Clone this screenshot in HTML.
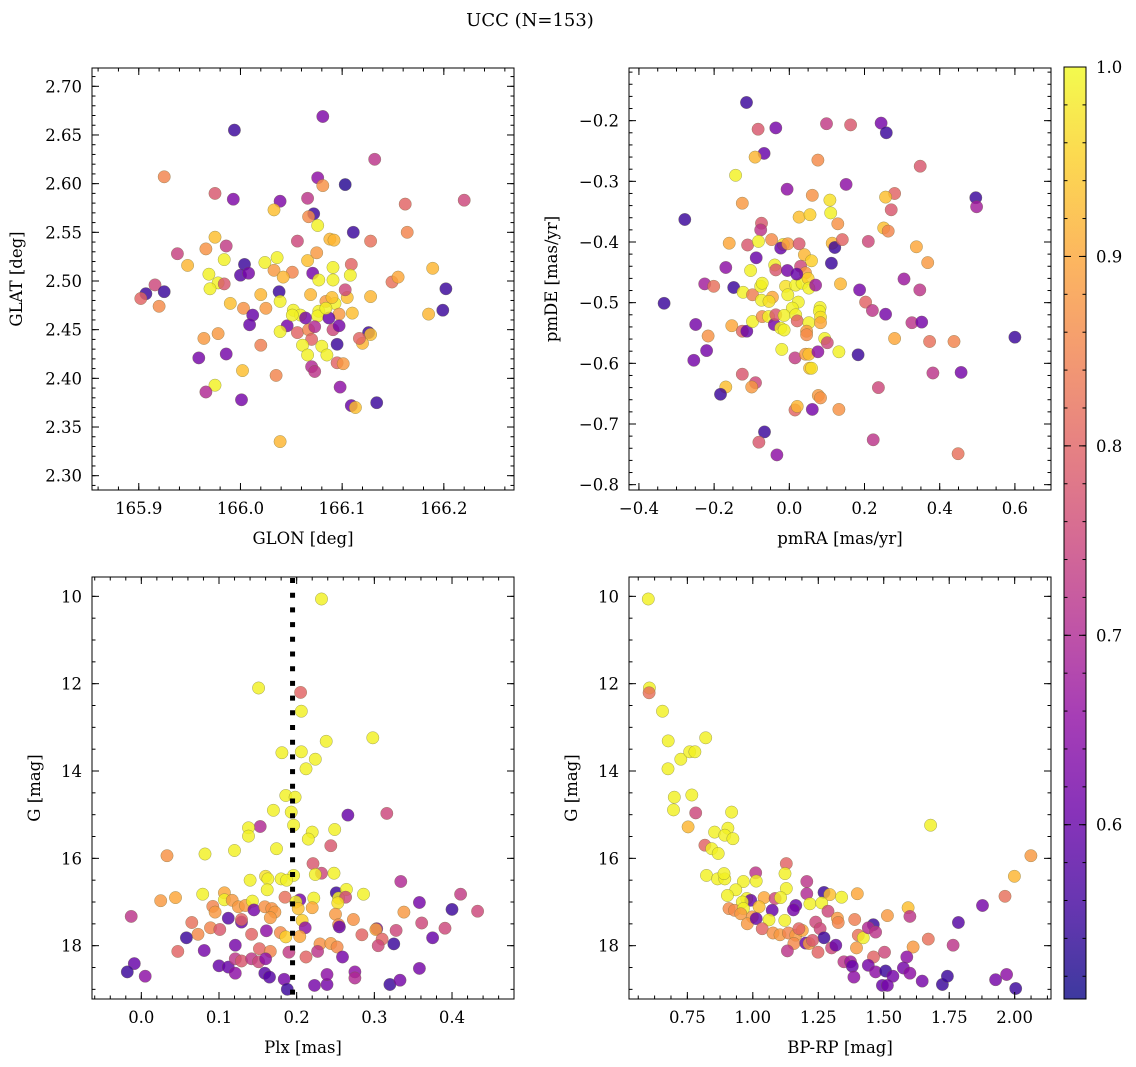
<!DOCTYPE html>
<html><head><meta charset="utf-8"><style>
html,body{margin:0;padding:0;background:#fff}
svg{display:block}
text{font-family:"DejaVu Serif","Liberation Serif",serif;fill:#000}
</style></head><body>
<svg id="fig" xmlns="http://www.w3.org/2000/svg" width="1136" height="1067" viewBox="0 0 1136 1067">
<defs>
<linearGradient id="cbgrad" x1="0" y1="1" x2="0" y2="0">
<stop offset="0" stop-color="#0d0887"/><stop offset="0.1" stop-color="#41049d"/><stop offset="0.2" stop-color="#6a00a8"/><stop offset="0.3" stop-color="#8f0da4"/><stop offset="0.4" stop-color="#b12a90"/><stop offset="0.5" stop-color="#cc4778"/><stop offset="0.6" stop-color="#e16462"/><stop offset="0.7" stop-color="#f2844b"/><stop offset="0.8" stop-color="#fca636"/><stop offset="0.9" stop-color="#fcce25"/><stop offset="1" stop-color="#f0f921"/>
</linearGradient>
</defs>
<text x="530" y="26" font-size="18" text-anchor="middle">UCC (N=153)</text>
</svg>
<script>
// ---- data ----
const glon = [165.994,166.081,166.132,165.925,165.975,165.993,166.076,166.081,166.103,166.039,166.033,166.066,166.072,166.067,166.076,166.111,166.162,166.164,166.220,166.056,166.088,166.092,166.128,165.975,165.986,165.966,165.938,165.948,165.984,166.036,166.024,166.004,166.066,166.075,166.051,166.033,166.042,165.969,165.978,165.970,165.984,166.000,166.008,166.071,166.077,166.091,166.091,166.109,166.108,166.149,166.155,166.189,166.202,165.916,165.907,165.925,165.902,165.920,165.990,166.020,166.038,166.039,166.003,166.025,166.012,166.009,166.069,166.084,166.093,166.105,166.103,166.128,166.052,166.059,166.077,166.076,166.097,166.110,166.087,166.046,166.039,166.056,166.067,166.073,166.091,166.097,166.126,166.128,166.120,166.117,165.964,165.978,166.020,166.070,166.061,166.080,166.066,166.085,166.095,166.095,166.101,165.959,165.986,166.002,166.035,166.070,166.073,166.098,165.975,165.966,166.001,166.109,166.113,166.134,166.039,166.185,166.199,166.051,166.064,166.084,166.090];
const glat = [2.655,2.669,2.625,2.607,2.590,2.584,2.606,2.598,2.599,2.582,2.573,2.585,2.569,2.566,2.557,2.550,2.579,2.550,2.583,2.541,2.543,2.542,2.541,2.545,2.536,2.533,2.528,2.516,2.522,2.524,2.519,2.517,2.521,2.529,2.509,2.511,2.504,2.507,2.498,2.492,2.497,2.506,2.508,2.508,2.501,2.514,2.501,2.517,2.506,2.499,2.504,2.513,2.492,2.496,2.487,2.489,2.482,2.474,2.477,2.486,2.489,2.479,2.472,2.472,2.465,2.455,2.486,2.479,2.477,2.483,2.491,2.484,2.470,2.465,2.469,2.464,2.466,2.467,2.462,2.454,2.448,2.447,2.450,2.453,2.450,2.454,2.447,2.445,2.436,2.441,2.441,2.446,2.434,2.440,2.434,2.433,2.424,2.424,2.435,2.416,2.415,2.421,2.425,2.408,2.403,2.412,2.407,2.391,2.393,2.386,2.378,2.372,2.370,2.375,2.335,2.466,2.470,2.465,2.462,2.472,2.483];
const probPos = [.55,.63,.72,.85,.78,.63,.65,.87,.53,.63,.93,.72,.55,.86,.99,.55,.8,.85,.75,.75,.92,.92,.82,.93,.73,.87,.74,.92,.99,.99,.99,.55,.93,.88,.85,.88,.92,.99,.99,.99,.78,.58,.62,.62,.99,.99,.99,.8,.99,.82,.9,.92,.55,.75,.55,.55,.8,.86,.93,.92,.55,.99,.87,.88,.6,.6,.92,.88,.99,.93,.75,.92,.99,.99,.99,.99,.88,.93,.6,.62,.99,.8,.85,.7,.75,.62,.55,.93,.92,.8,.88,.88,.84,.8,.99,.99,.99,.99,.55,.8,.88,.62,.62,.93,.85,.7,.72,.65,.99,.7,.62,.6,.93,.55,.92,.92,.55,.99,.62,.99,.93];

const pmra = [-0.114,-0.083,-0.036,0.099,0.163,0.244,0.258,-0.067,-0.091,0.076,-0.143,0.348,-0.006,0.151,0.061,0.280,0.256,-0.125,0.108,0.496,0.498,0.271,-0.278,0.026,0.055,0.110,-0.074,-0.076,0.129,0.251,0.263,-0.160,-0.111,-0.082,-0.047,-0.016,-0.023,-0.004,0.026,0.114,0.121,0.141,0.210,0.338,0.368,-0.088,0.040,0.059,0.112,-0.169,-0.039,-0.036,-0.005,0.030,0.043,-0.103,-0.225,-0.201,-0.148,-0.123,-0.098,-0.076,-0.072,-0.045,-0.074,-0.054,-0.010,0.017,-0.004,0.034,0.050,0.052,0.070,0.020,0.136,0.187,0.305,0.347,0.024,0.008,0.082,0.080,0.203,0.221,0.256,-0.333,-0.249,-0.220,-0.216,-0.254,-0.153,-0.125,-0.113,-0.098,-0.072,-0.055,-0.040,-0.036,-0.014,-0.023,-0.014,0.017,0.021,0.052,0.083,0.083,0.046,0.046,0.094,0.101,0.326,0.352,0.280,0.373,0.438,0.600,-0.020,0.015,0.043,0.052,0.076,0.132,0.183,0.054,0.059,-0.125,-0.090,-0.100,-0.169,-0.183,0.382,0.457,0.237,0.077,0.083,0.015,0.021,0.061,0.132,-0.066,-0.081,-0.033,0.223,0.449];
const pmde = [-0.170,-0.214,-0.212,-0.205,-0.207,-0.204,-0.220,-0.254,-0.260,-0.265,-0.290,-0.275,-0.313,-0.305,-0.323,-0.320,-0.326,-0.336,-0.331,-0.327,-0.342,-0.347,-0.363,-0.359,-0.355,-0.352,-0.369,-0.380,-0.370,-0.377,-0.382,-0.402,-0.405,-0.399,-0.396,-0.404,-0.410,-0.403,-0.403,-0.402,-0.409,-0.396,-0.399,-0.408,-0.434,-0.426,-0.421,-0.431,-0.435,-0.442,-0.438,-0.446,-0.447,-0.440,-0.451,-0.447,-0.469,-0.473,-0.475,-0.483,-0.487,-0.473,-0.468,-0.491,-0.496,-0.498,-0.473,-0.471,-0.487,-0.468,-0.460,-0.476,-0.471,-0.453,-0.469,-0.479,-0.461,-0.479,-0.499,-0.509,-0.508,-0.514,-0.499,-0.513,-0.519,-0.501,-0.536,-0.579,-0.555,-0.595,-0.538,-0.547,-0.547,-0.531,-0.523,-0.523,-0.536,-0.520,-0.521,-0.542,-0.545,-0.520,-0.530,-0.533,-0.524,-0.533,-0.547,-0.553,-0.559,-0.566,-0.533,-0.532,-0.559,-0.564,-0.564,-0.557,-0.577,-0.591,-0.585,-0.585,-0.581,-0.581,-0.586,-0.608,-0.608,-0.618,-0.632,-0.639,-0.639,-0.651,-0.616,-0.615,-0.640,-0.653,-0.657,-0.677,-0.671,-0.676,-0.676,-0.713,-0.730,-0.751,-0.726,-0.749];
const probPm = [.55,.78,.62,.73,.78,.62,.55,.6,.92,.86,.99,.78,.65,.65,.87,.8,.93,.88,.97,.55,.68,.78,.55,.93,.95,.99,.78,.72,.87,.93,.85,.9,.78,.99,.86,.97,.6,.88,.78,.92,.55,.8,.75,.9,.88,.6,.92,.95,.55,.65,.99,.78,.62,.75,.88,.99,.68,.82,.55,.99,.84,.99,.99,.9,.99,.97,.97,.99,.99,.99,.95,.99,.67,.6,.92,.62,.67,.72,.99,.99,.99,.99,.8,.72,.62,.55,.62,.62,.87,.62,.9,.8,.6,.99,.86,.99,.62,.78,.99,.99,.99,.99,.8,.99,.97,.9,.88,.86,.99,.75,.72,.62,.9,.82,.85,.55,.99,.73,.88,.93,.65,.99,.55,.93,.97,.78,.75,.88,.93,.55,.72,.62,.75,.88,.87,.8,.92,.62,.87,.55,.78,.65,.72,.82];

const plx = [0.232,0.151,0.205,0.206,0.298,0.238,0.181,0.206,0.224,0.212,0.186,0.198,0.170,0.193,0.196,0.266,0.316,0.153,0.138,0.138,0.220,0.215,0.249,0.244,0.174,0.120,0.082,0.033,0.221,0.232,0.224,0.248,0.196,0.160,0.163,0.140,0.180,0.187,0.334,0.162,0.079,0.107,0.251,0.264,0.286,0.411,0.185,0.204,0.222,0.254,0.263,0.025,0.044,0.107,0.117,0.125,0.134,0.143,0.145,0.159,0.168,0.172,0.199,0.202,0.220,0.253,0.358,0.400,0.433,0.338,0.092,0.095,-0.013,0.112,0.129,0.129,0.166,0.207,0.211,0.250,0.273,0.254,0.255,0.065,0.089,0.101,0.073,0.058,0.142,0.161,0.179,0.186,0.204,0.303,0.302,0.328,0.361,0.391,0.375,0.284,0.310,0.305,0.325,0.230,0.244,0.252,0.047,0.081,0.121,0.152,0.166,0.190,0.227,0.212,0.259,-0.009,-0.018,0.005,0.100,0.112,0.121,0.121,0.129,0.142,0.151,0.160,0.159,0.165,0.184,0.188,0.223,0.239,0.239,0.275,0.275,0.320,0.333,0.358];
const gPlx = [10.06,12.10,12.20,12.63,13.24,13.32,13.58,13.56,13.73,13.95,14.56,14.60,14.90,14.94,15.24,15.01,14.97,15.27,15.30,15.49,15.40,15.56,15.34,15.71,15.78,15.82,15.90,15.94,16.12,16.34,16.37,16.34,16.39,16.41,16.47,16.50,16.47,16.50,16.53,16.72,16.82,16.79,16.79,16.71,16.82,16.82,16.89,16.95,16.91,16.91,16.89,16.97,16.90,16.95,16.96,17.11,17.08,16.98,17.18,17.11,17.15,17.23,17.00,17.15,17.13,17.02,17.01,17.17,17.21,17.23,17.10,17.23,17.33,17.37,17.46,17.40,17.36,17.42,17.59,17.28,17.40,17.52,17.57,17.47,17.59,17.63,17.74,17.82,17.74,17.66,17.70,17.80,17.79,17.61,17.63,17.65,17.48,17.60,17.82,17.75,17.85,18.00,17.96,17.96,17.95,18.03,18.13,18.11,17.99,18.07,18.13,18.15,18.13,18.26,18.26,18.41,18.60,18.70,18.46,18.49,18.63,18.30,18.35,18.30,18.37,18.30,18.63,18.72,18.77,19.00,18.91,18.89,18.66,18.60,18.74,18.89,18.79,18.52];
const probPlx = [.99,.99,.8,.99,.99,.99,.99,.99,.99,.99,.99,.99,.99,.99,.99,.6,.75,.7,.99,.99,.99,.99,.99,.78,.99,.99,.99,.87,.78,.75,.99,.99,.99,.97,.99,.99,.99,.99,.7,.99,.99,.9,.55,.99,.99,.73,.82,.62,.99,.99,.75,.88,.9,.99,.88,.88,.88,.99,.62,.87,.87,.88,.99,.93,.9,.97,.62,.55,.75,.88,.85,.88,.72,.58,.6,.8,.88,.95,.65,.88,.87,.86,.6,.82,.85,.78,.86,.55,.8,.65,.86,.95,.9,.62,.9,.75,.75,.75,.6,.8,.8,.75,.55,.87,.88,.86,.8,.62,.62,.8,.85,.73,.72,.8,.62,.6,.55,.65,.6,.6,.65,.72,.78,.72,.75,.65,.58,.58,.62,.55,.62,.62,.65,.65,.7,.55,.62,.62];

const bprp = [0.601,0.605,0.604,0.655,0.677,0.820,0.676,0.725,0.759,0.779,0.700,0.767,0.697,0.782,0.919,0.753,1.679,0.854,0.905,0.893,0.924,0.817,0.843,0.868,2.062,1.999,1.963,1.877,1.785,1.765,0.823,0.865,0.893,0.890,1.011,1.128,1.123,0.964,1.013,0.935,0.903,1.128,1.206,1.206,1.272,1.294,1.339,1.399,0.977,0.992,1.043,1.085,1.106,0.960,1.164,1.155,1.218,1.263,0.909,0.930,0.964,1.024,1.074,0.954,0.998,0.979,1.062,1.013,1.036,1.122,1.287,1.323,1.326,1.389,1.514,1.593,1.600,1.240,1.257,1.077,1.104,1.136,1.164,1.189,1.176,1.157,1.202,1.215,1.272,1.228,1.301,1.317,1.249,1.132,1.403,1.422,1.460,1.441,1.469,1.396,1.461,1.503,1.612,1.670,1.348,1.373,1.380,1.386,1.441,1.469,1.507,1.535,1.495,1.514,1.588,1.575,1.600,1.647,1.724,1.743,1.927,1.969,2.004];
const gCmd = [10.06,12.10,12.21,12.63,13.31,13.24,13.95,13.73,13.56,13.56,14.60,14.55,14.89,14.96,14.94,15.28,15.24,15.40,15.31,15.47,15.55,15.70,15.78,15.89,15.94,16.41,16.87,17.08,17.47,17.99,16.39,16.47,16.47,16.35,16.33,16.12,16.35,16.53,16.52,16.72,16.85,16.69,16.53,16.81,16.78,16.83,16.89,16.81,16.92,16.96,16.90,16.92,16.90,17.00,17.08,17.18,17.04,17.02,17.15,17.19,17.15,17.11,17.19,17.27,17.34,17.50,17.41,17.38,17.61,17.42,17.21,17.37,17.47,17.40,17.31,17.13,17.33,17.46,17.61,17.71,17.75,17.71,17.76,17.65,17.61,17.95,17.94,17.95,17.82,17.88,18.05,17.99,18.15,18.12,17.76,17.82,17.52,17.59,17.69,18.05,18.26,18.15,18.03,17.85,18.37,18.37,18.47,18.72,18.45,18.60,18.58,18.70,18.91,18.91,18.26,18.51,18.63,18.81,18.89,18.70,18.78,18.66,18.98];
const probCmd = [.99,.99,.82,.99,.99,.99,.99,.99,.99,.99,.99,.99,.99,.75,.99,.92,.99,.99,.99,.99,.99,.8,.99,.99,.88,.92,.82,.62,.58,.72,.99,.99,.99,.99,.72,.8,.99,.99,.99,.99,.99,.99,.72,.7,.55,.93,.99,.9,.99,.6,.9,.75,.99,.99,.6,.62,.99,.99,.86,.86,.99,.93,.6,.88,.88,.88,.99,.6,.8,.99,.75,.88,.85,.84,.88,.93,.72,.75,.75,.87,.88,.85,.88,.9,.8,.86,.6,.88,.55,.78,.75,.6,.8,.72,.82,.99,.55,.7,.72,.88,.8,.75,.88,.82,.72,.67,.6,.65,.62,.65,.55,.62,.6,.62,.65,.62,.65,.62,.55,.55,.62,.65,.55];

const xTicks1 = [165.9,166.0,166.1,166.2], yTicks1 = [2.30,2.35,2.40,2.45,2.50,2.55,2.60,2.65,2.70];
const xTicks2 = [-0.4,-0.2,0.0,0.2,0.4,0.6], yTicks2 = [-0.8,-0.7,-0.6,-0.5,-0.4,-0.3,-0.2];
const xTicks3 = [0.0,0.1,0.2,0.3,0.4], yTicksG = [10,12,14,16,18];
const xTicks4 = [0.75,1.00,1.25,1.50,1.75,2.00];
const cbTicks = [0.6,0.7,0.8,0.9,1.0];
const plxLine = [0.1947];
const vmin = 0.508, vmax = 1.0;

// ---- helpers ----
const NS = 'http://www.w3.org/2000/svg';
const svg = document.getElementById('fig');
const stops = ['#0d0887','#41049d','#6a00a8','#8f0da4','#b12a90','#cc4778','#e16462','#f2844b','#fca636','#fcce25','#f0f921'].map(h=>[parseInt(h.slice(1,3),16),parseInt(h.slice(3,5),16),parseInt(h.slice(5,7),16)]);
function plasma(v){
  let t = Math.max(0,Math.min(1,(v-vmin)/(vmax-vmin)))*10;
  let i = Math.min(9,Math.floor(t)), f = t-i;
  const c = stops[i].map((a,k)=>Math.round(a+(stops[i+1][k]-a)*f));
  return 'rgb('+c.join(',')+')';
}
function mk(tag, attrs, parent){
  const e = document.createElementNS(NS, tag);
  for (const k in attrs) e.setAttribute(k, attrs[k]);
  (parent||svg).appendChild(e);
  return e;
}
const minus = s => s.replace('-', '\u2212');

function panel(name, box, xd, yd, inv, xt, yt, xmin, ymin, xl, yl, xs, ys, cs, fx, fy, ylx){
  const g = mk('g', {});
  
  
  const X = v => box.x + (v - xd[0])/(xd[1]-xd[0])*box.w;
  const Y = inv ? (v => box.y + (v - yd[0])/(yd[1]-yd[0])*box.h)
                : (v => box.y + (yd[1] - v)/(yd[1]-yd[0])*box.h);
  const pts = mk('g', {}, g);
  
  
  const n = Math.min(xs.length, ys.length, cs.length);
  for (let i=0;i<n;i++){
    const c = mk('circle', {cx:X(xs[i]).toFixed(1), cy:Y(ys[i]).toFixed(1), r:6.2, fill:plasma(cs[i]), 'fill-opacity':0.82, stroke:'#6b6b3a', 'stroke-width':0.5, 'stroke-opacity':0.6}, pts);
    
    
  }
  const ax = mk('g', {stroke:'#000','stroke-width':1}, g);
  
  
  const x0 = Math.ceil(xd[0]/xmin-1e-9), x1 = Math.floor(xd[1]/xmin+1e-9);
  for (let k=x0;k<=x1;k++){ const px=X(k*xmin);
    mk('line',{x1:px,x2:px,y1:box.y+box.h,y2:box.y+box.h-3.5},ax); mk('line',{x1:px,x2:px,y1:box.y,y2:box.y+3.5},ax); }
  const y0 = Math.ceil(yd[0]/ymin-1e-9), y1 = Math.floor(yd[1]/ymin+1e-9);
  for (let k=y0;k<=y1;k++){ const py=Y(k*ymin);
    mk('line',{y1:py,y2:py,x1:box.x,x2:box.x+3.5},ax); mk('line',{y1:py,y2:py,x1:box.x+box.w,x2:box.x+box.w-3.5},ax); }
  xt.forEach(v=>{ const px=X(v);
    mk('line',{x1:px,x2:px,y1:box.y+box.h,y2:box.y+box.h-7},ax); mk('line',{x1:px,x2:px,y1:box.y,y2:box.y+7},ax);
    const t = mk('text',{x:px,y:box.y+box.h+24,'font-size':16.5,'text-anchor':'middle',stroke:'none'},g);
    t.textContent = minus(fx(v));
    
    
  });
  yt.forEach(v=>{ const py=Y(v);
    mk('line',{y1:py,y2:py,x1:box.x,x2:box.x+7},ax); mk('line',{y1:py,y2:py,x1:box.x+box.w,x2:box.x+box.w-7},ax);
    const t = mk('text',{x:box.x-10,y:py+6,'font-size':16.5,'text-anchor':'end',stroke:'none'},g);
    t.textContent = minus(fy(v));
    
    
  });
  mk('rect',{x:box.x,y:box.y,width:box.w,height:box.h,fill:'none'},ax);
  const xlab = mk('text',{x:box.x+box.w/2,y:box.y+box.h+54,'font-size':16.5,'text-anchor':'middle'},g);
  xlab.textContent = xl;
  
  
  const ly = box.y+box.h/2;
  const ylab = mk('text',{x:ylx,y:ly,'font-size':16.5,'text-anchor':'middle',transform:'rotate(-90 '+ylx+' '+ly+')'},g);
  ylab.textContent = yl;
  
  
  return {X, Y, g, box};
}

const f1=v=>v.toFixed(1), f2=v=>v.toFixed(2), f0=v=>String(v);
panel('panel-position', {x:92,y:68,w:422,h:422}, [165.854,166.269], [2.2853,2.7188], false, xTicks1, yTicks1, 0.02, 0.01, 'GLON [deg]', 'GLAT [deg]', glon, glat, probPos, f1, f2, 22);
panel('panel-proper-motion', {x:629,y:68,w:422,h:422}, [-0.4264,0.6960], [-0.8088,-0.1132], false, xTicks2, yTicks2, 0.05, 0.02, 'pmRA [mas/yr]', 'pmDE [mas/yr]', pmra, pmde, probPm, f1, f1, 557);
const p3 = panel('panel-parallax', {x:92,y:577,w:422,h:422}, [-0.0635,0.4798], [9.557,19.221], true, xTicks3, yTicksG, 0.02, 0.5, 'Plx [mas]', 'G [mag]', plx, gPlx, probPlx, f1, f0, 40);
panel('panel-cmd', {x:629,y:577,w:422,h:422}, [0.5272,2.1387], [9.557,19.221], true, xTicks4, yTicksG, 0.0625, 0.5, 'BP-RP [mag]', 'G [mag]', bprp, gCmd, probCmd, f2, f0, 577);

// parallax reference line
plxLine.forEach(v=>{
  const l = mk('line',{x1:p3.X(v),x2:p3.X(v),y1:p3.box.y+1,y2:p3.box.y+p3.box.h,stroke:'#000','stroke-width':5,'stroke-dasharray':'5 9.7'}, p3.g);
  
  
});

// colorbar
const cb = mk('g',{});


const cbBox = {x:1064,y:67,w:22,h:932};
const cbr = mk('rect',{x:cbBox.x,y:cbBox.y,width:cbBox.w,height:cbBox.h,fill:'url(#cbgrad)','fill-opacity':0.8},cb);


const CY = v => cbBox.y + (vmax - v)/(vmax-vmin)*cbBox.h;
for (let k=Math.ceil(vmin/0.02); k<=Math.floor(vmax/0.02+1e-9); k++){
  const py = CY(k*0.02);
  mk('line',{x1:cbBox.x+cbBox.w,x2:cbBox.x+cbBox.w-3.5,y1:py,y2:py,stroke:'#000'},cb);
  mk('line',{x1:cbBox.x,x2:cbBox.x+3.5,y1:py,y2:py,stroke:'#000'},cb);
}
cbTicks.forEach(v=>{
  const py = CY(v);
  mk('line',{x1:cbBox.x+cbBox.w,x2:cbBox.x+cbBox.w-7,y1:py,y2:py,stroke:'#000'},cb);
  mk('line',{x1:cbBox.x,x2:cbBox.x+7,y1:py,y2:py,stroke:'#000'},cb);
  const t = mk('text',{x:cbBox.x+cbBox.w+10,y:py+6,'font-size':16.5},cb);
  t.textContent = v.toFixed(1);
  
  
});
mk('rect',{x:cbBox.x,y:cbBox.y,width:cbBox.w,height:cbBox.h,fill:'none',stroke:'#000'},cb);
</script>
</body></html>
